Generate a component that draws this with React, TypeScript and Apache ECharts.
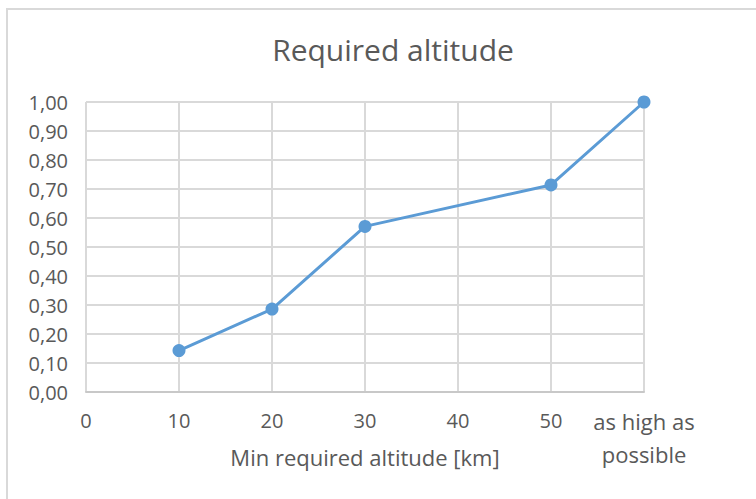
import React, { useEffect, useRef } from "react";
import * as echarts from "echarts";

const categories = ["0", "10", "20", "30", "40", "50", "as high as possible"];
const values: (number | null)[] = [null, 0.143, 0.286, 0.571, null, 0.714, 1.0];
const yTicks = { min: 0, max: 1, interval: 0.1 };
const titleText = "Required altitude";
const xAxisName = "Min required altitude [km]";

const FONT = "'Open Sans', sans-serif";
const TEXT = "#595959";
const GRID = "#d9d9d9";

export default function App() {
  const ref = useRef<HTMLDivElement>(null);
  useEffect(() => {
    if (!ref.current) return;
    const chart = echarts.init(ref.current, null, { renderer: "svg" });
    chart.setOption({
      animation: false,
      backgroundColor: "#ffffff",
      textStyle: { fontFamily: FONT },
      graphic: [
        {
          type: "rect",
          shape: { x: 7, y: 9, width: 820, height: 620 },
          style: { fill: "none", stroke: GRID, lineWidth: 2 },
          silent: true,
        },
      ],
      title: {
        text: titleText,
        left: 388,
        top: 26,
        textAlign: "center",
        textStyle: {
          fontFamily: FONT,
          fontSize: 30,
          fontWeight: "normal",
          color: TEXT,
          lineHeight: 36,
        },
      },
      grid: { left: 86, right: 112, top: 102, bottom: 107, containLabel: false },
      xAxis: {
        type: "category",
        data: categories,
        boundaryGap: false,
        name: xAxisName,
        nameLocation: "middle",
        nameGap: 54,
        nameMoveOverlap: false,
        nameTextStyle: { fontFamily: FONT, fontSize: 22, color: TEXT },
        axisLine: { show: true, lineStyle: { color: "#c8c8c8", width: 2 } },
        axisTick: { show: false },
        splitLine: { show: true, lineStyle: { color: GRID, width: 2 } },
        axisLabel: {
          interval: 0,
          margin: 12,
          formatter: (v: string) =>
            v === "as high as possible"
              ? "{b|as high as}\n{b|possible}"
              : "{a|" + v + "}",
          rich: {
            a: { fontFamily: FONT, fontSize: 20, color: TEXT, lineHeight: 33 },
            b: { fontFamily: FONT, fontSize: 22, color: TEXT, lineHeight: 33 },
          },
        },
      },
      yAxis: {
        type: "value",
        min: yTicks.min,
        max: yTicks.max,
        interval: yTicks.interval,
        axisLine: { show: false },
        axisTick: { show: false },
        splitLine: { show: true, lineStyle: { color: GRID, width: 2 } },
        axisLabel: {
          margin: 18,
          fontFamily: FONT,
          fontSize: 20,
          color: TEXT,
          formatter: (v: number) => v.toFixed(2).replace(".", ","),
        },
      },
      series: [
        {
          type: "line",
          data: values,
          connectNulls: true,
          symbol: "circle",
          symbolSize: 13,
          lineStyle: { color: "#5b9bd5", width: 3 },
          itemStyle: { color: "#5b9bd5" },
        },
      ],
    });
    return () => chart.dispose();
  }, []);
  return (
    <div
      ref={ref}
      style={{ position: "absolute", left: 0, top: 0, width: 756, height: 499 }}
    />
  );
}
